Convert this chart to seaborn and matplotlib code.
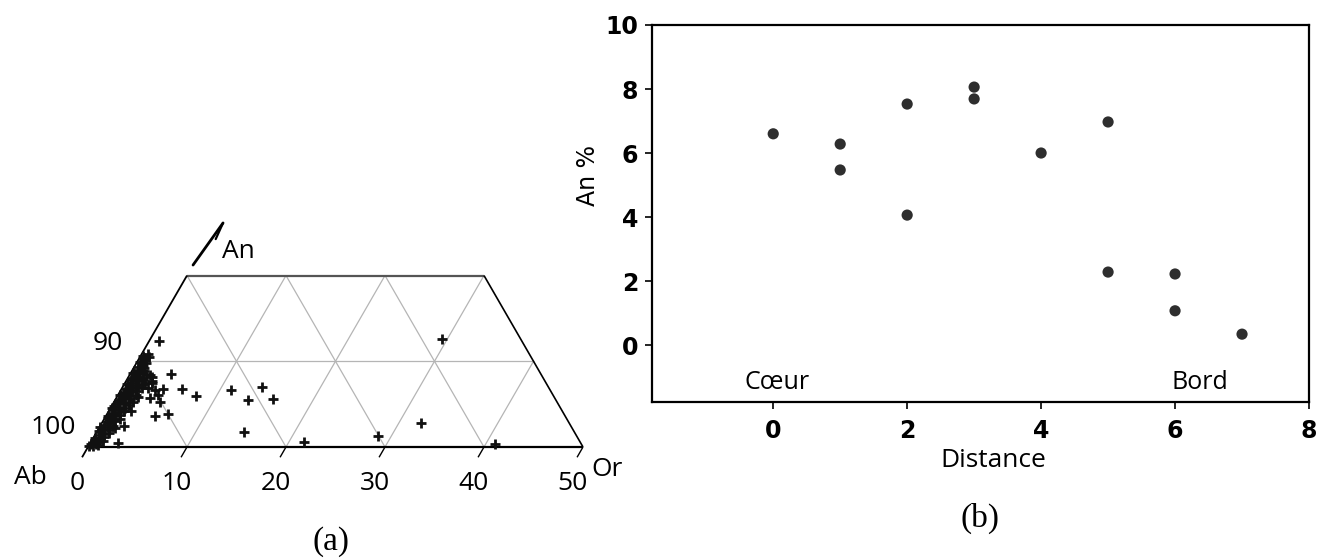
import numpy as np
import pandas as pd
import matplotlib
matplotlib.use('Agg')
import matplotlib.pyplot as plt
import seaborn as sns

sns.set_style("ticks")
plt.rcParams['font.family'] = ['DejaVu Sans']
plt.rcParams['text.color'] = 'black'
plt.rcParams['axes.labelcolor'] = 'black'

# (a) feldspar compositions, Or % and An % (Ab = 100 - Or - An)
or_pct = [0.2, 0.6, 0.9, 0.3, 0.7, 1.2, 0.4, 0.9, 0.2, 0.6, 1.1, 0.3, 0.8, 1.3,
          0.5, 1.0, 0.2, 0.7, 1.4, 0.4, 0.9, 1.5, 0.2, 0.6, 1.1, 1.7, 0.4, 0.9,
          1.4, 0.2, 0.7, 1.2, 1.8, 0.4, 0.9, 1.5, 0.2, 0.7, 1.2, 1.9, 0.4, 0.9,
          1.5, 0.2, 0.7, 1.2, 0.4, 0.9, 0.3, 0.7, 0.3, 0.6, 0.1, 0.5,
          0.4, 0.8, 0.15, 1.0, 0.5, 1.3, 0.9, 0.1, 0.6, 1.2, 0.3, 0.8, 1.6, 0.5,
          1.2, 0.2, 0.8, 1.4, 0.4, 1.0, 1.9, 0.6, 1.2, 2.1, 0.4, 1.0, 1.6, 0.6,
          1.2, 2.0, 0.4, 1.0, 1.7, 0.5, 1.0, 1.6, 0.5, 1.1, 0.6, 1.0, 0.5, 0.9,
          2.1, 2.6, 2.6, 3.45, 4.0, 3.4, 4.65, 2.0,
          1.0, 4.1, 6.1, 7.9, 4.2, 5.0, 6.1, 11.1, 14.1, 13.4, 15.9, 14.9, 21.5,
          29.5, 32.2, 28.6, 40.9, 2.8, 2.4, 1.6, 2.2, 2.4, 2.7]
an_pct = [0.3, 0.4, 0.2, 0.8, 1.0, 0.7, 1.4, 1.5, 1.9, 2.1, 2.0, 2.6, 2.8, 2.5,
          3.2, 3.3, 3.6, 3.9, 3.7, 4.3, 4.4, 4.2, 4.8, 5.0, 5.1, 4.9, 5.5, 5.7,
          5.6, 6.1, 6.2, 6.4, 6.1, 6.8, 6.9, 7.0, 7.4, 7.5, 7.7, 7.3, 8.0, 8.2,
          8.1, 8.6, 8.8, 8.9, 9.3, 9.4, 9.9, 10.1, 10.6, 10.9, 0.1, 0.6,
          0.15, 0.6, 1.1, 1.2, 1.7, 1.6, 2.3, 2.3, 2.9, 3.0, 3.4, 3.6, 3.3, 4.0,
          4.1, 4.5, 4.7, 4.6, 5.2, 5.3, 5.3, 5.8, 5.9, 5.8, 6.4, 6.6, 6.5, 7.1,
          7.2, 6.9, 7.8, 7.9, 7.8, 8.4, 8.6, 8.5, 9.0, 9.2, 9.7, 9.8, 10.4, 10.5,
          8.4, 7.7, 6.9, 6.65, 6.1, 5.7, 5.25, 7.5,
          12.4, 8.5, 6.8, 6.0, 6.8, 3.6, 3.9, 6.6, 7.0, 5.5, 5.6, 1.75, 0.6,
          12.6, 2.8, 1.3, 0.35, 0.5, 2.45, 2.2, 4.2, 8.2, 7.5]
or_ticks = [0, 10, 20, 30, 40, 50]
ab_ticks = [100, 90]

# (b) An % profile from core to rim
distance = [0, 1, 1, 2, 2, 3, 3, 4, 5, 5, 6, 6, 7]
an_profile = [6.6, 6.28, 5.47, 7.53, 4.06, 8.06, 7.69, 6.0, 6.97, 2.28, 2.22, 1.07, 0.34]

H = np.sqrt(3) / 2


def tern(o, a):
    # ternary (Or, An) -> cartesian, Ab corner at origin
    return o + a / 2.0, a * H


fig = plt.figure(figsize=(13.23, 5.6), dpi=100)

# ---------- (a) ternary diagram ----------
ax1 = fig.add_axes([0, 1 - 500 / 560, 640 / 1323, 300 / 560])
ax1.set_xlim(-88 / 9.9, (640 - 88) / 9.9)
ax1.set_ylim((447 - 500) / 9.9, (447 - 200) / 9.9)
ax1.axis('off')


def tline(o0, a0, o1, a1, **kw):
    x0, y0 = tern(o0, a0)
    x1, y1 = tern(o1, a1)
    ax1.plot([x0, x1], [y0, y1], solid_capstyle='butt', **kw)


grid = dict(color='#b5b5b5', lw=0.9, zorder=1)
tline(0, 10, 40, 10, **grid)
for o in [10, 20, 30]:
    tline(o, 0, o, 20, **grid)
tline(40, 0, 40, 10, **grid)
for ab in [90, 80, 70, 60]:
    a_top = min(20, 100 - ab)
    tline(100 - ab - a_top, a_top, 100 - ab, 0, **grid)

tline(0, 20, 30, 20, color='#555555', lw=1.6, zorder=2)
tline(0, 0, 50, 0, color='black', lw=1.6, zorder=2)
tline(0, -1.2, 0, 20, color='black', lw=1.3, zorder=2)
tline(50, 0, 30, 20, color='black', lw=1.2, zorder=2)
for o in or_ticks[1:]:
    tline(o, 0, o, -1.2, color='black', lw=1.0, zorder=2)

tx, ty = zip(*[tern(o, a) for o, a in zip(or_pct, an_pct)])
sns.scatterplot(x=list(tx), y=list(ty), ax=ax1, marker='+', s=60, color='#111111',
                linewidth=2.0, zorder=3, legend=False)

lab = dict(fontsize=19, family=['Open Sans', 'DejaVu Sans'], ha='center', va='center')
for o in or_ticks:
    ax1.text(o - 1.05, -3.64, str(o), **lab)
ax1.text(-3.54, 1.92, str(ab_ticks[0]), **lab)
ax1.text(2.02, 10.5, str(ab_ticks[1]), **lab)
ax1.text(-5.86, -3.13, 'Ab', **lab)
ax1.text(52.4, -2.32, 'Or', **lab)
ax1.text(15.2, 19.7, 'An', **lab)
ax1.plot([10.61, 13.64], [18.38, 22.63], color='black', lw=2.0)
ax1.plot([13.64, 12.9], [22.63, 21.0], color='black', lw=1.6)

fig.text(331 / 1323, 1 - 542 / 560, '(a)', fontsize=24, family='Liberation Serif',
         ha='center', va='center')

# ---------- (b) An % vs distance ----------
ax2 = fig.add_axes([652 / 1323, 1 - 402 / 560, 657 / 1323, 377 / 560])
df = pd.DataFrame({'Distance': distance, 'An %': an_profile})
sns.scatterplot(data=df, x='Distance', y='An %', ax=ax2, color='#2e2e2e', s=65,
                edgecolor='none', legend=False)
ax2.set_xlim(-1.81, 8.0)
ax2.set_ylim(-1.78, 10)
ax2.set_xticks([0, 2, 4, 6, 8])
ax2.set_yticks([0, 2, 4, 6, 8, 10])
for sp in ax2.spines.values():
    sp.set_visible(True)
    sp.set_linewidth(1.6)
    sp.set_color('black')
ax2.tick_params(axis='both', direction='out', length=5, width=1.2, labelsize=17, colors='black')
ax2.tick_params(axis='x', pad=7)
ax2.tick_params(axis='y', pad=5)
for t in ax2.get_xticklabels() + ax2.get_yticklabels():
    t.set_fontweight('bold')
ax2.set_xlabel('Distance', fontsize=19, family=['Open Sans', 'DejaVu Sans'])
ax2.xaxis.set_label_coords(0.52, -0.155)
ax2.xaxis.label.set_verticalalignment('center')
ax2.set_ylabel('An %', fontsize=17)
ax2.yaxis.set_label_coords(-0.097, 0.60)
ax2.yaxis.label.set_verticalalignment('center')

ax2.text(0.05, -1.16, 'Cœur', fontsize=18, family=['Open Sans', 'DejaVu Sans'],
         ha='center', va='center')
ax2.text(6.37, -1.16, 'Bord', fontsize=18, family=['Open Sans', 'DejaVu Sans'],
         ha='center', va='center')

fig.text(980 / 1323, 1 - 518 / 560, '(b)', fontsize=24, family='Liberation Serif',
         ha='center', va='center')

fig.savefig('out.png', dpi=100)
plt.close()
